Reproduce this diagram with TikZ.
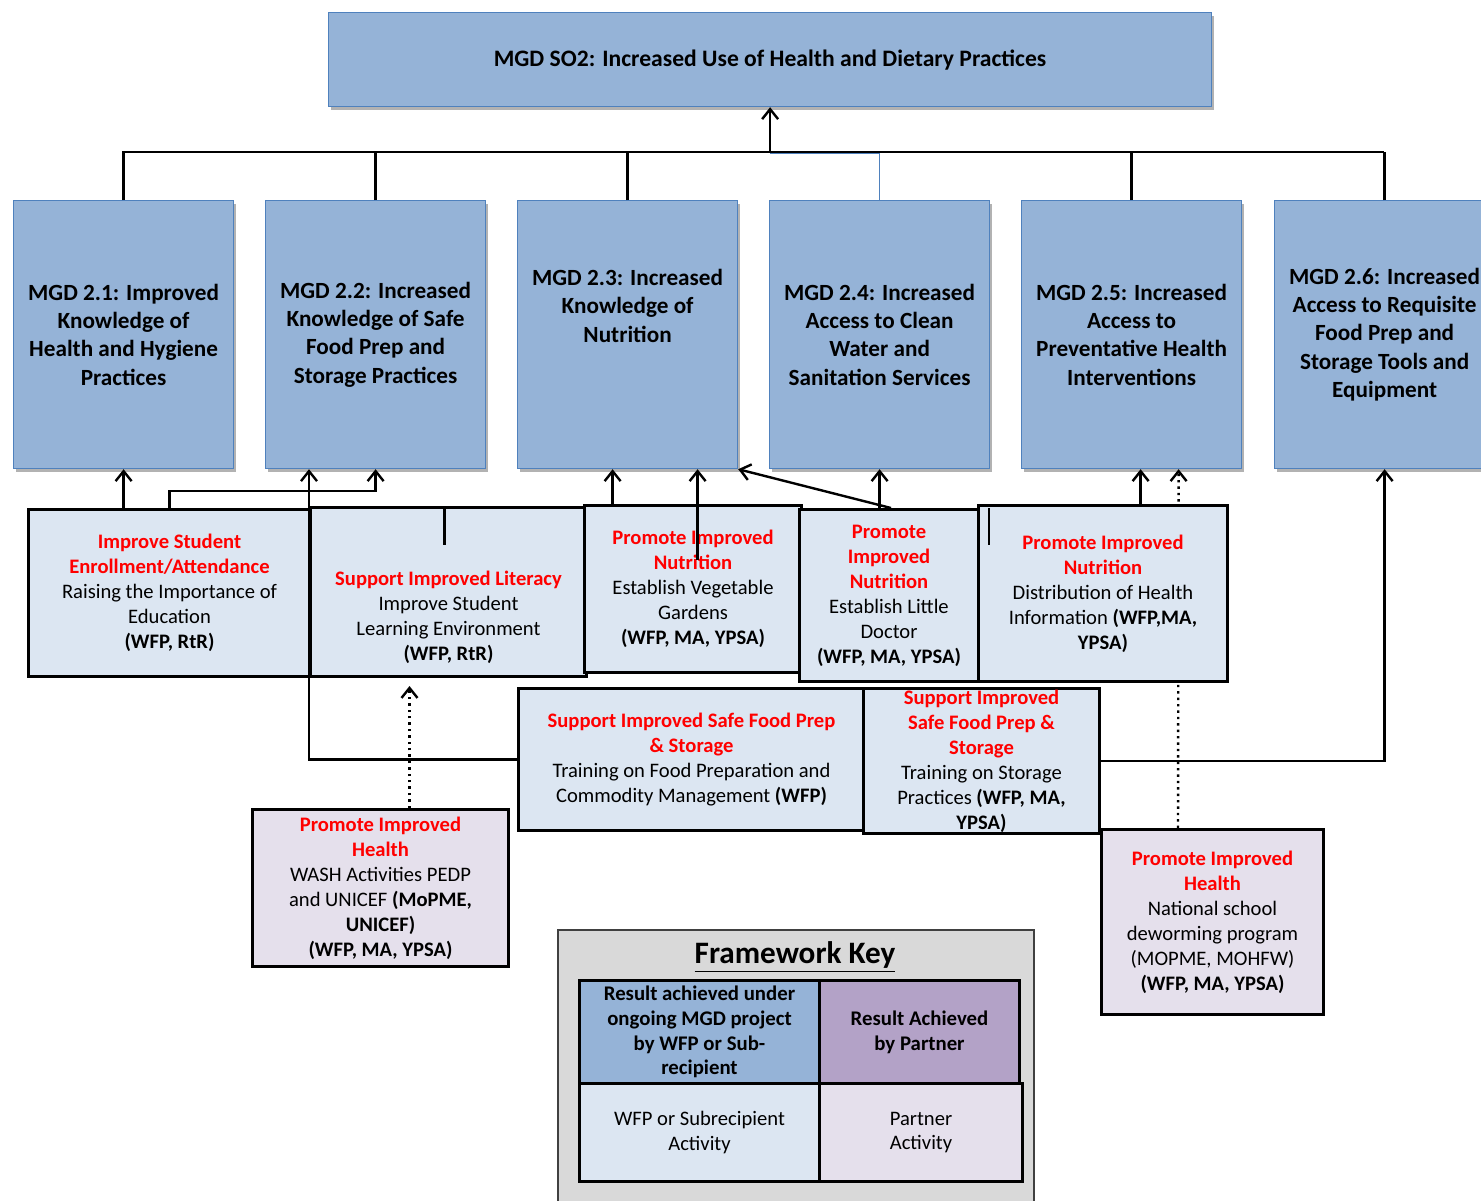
\documentclass[tikz,border=0pt]{standalone}
\usepackage{fontspec}
\setmainfont{Carlito}
\usetikzlibrary{arrows.meta,shadows}
\definecolor{mgdblue}{HTML}{95B3D7}
\definecolor{mgdedge}{HTML}{4F81BD}
\definecolor{actblue}{HTML}{DCE6F2}
\definecolor{partlav}{HTML}{E5E0EC}
\definecolor{partpur}{HTML}{B3A2C7}
\definecolor{keygray}{HTML}{D9D9D9}
\definecolor{redtxt}{HTML}{FF0000}
\newcommand{\redhd}[1]{{\color{redtxt}\bfseries #1}}
\begin{document}
\begin{tikzpicture}[x=0.5pt,y=-0.5pt,
  result/.style={draw=mgdedge, line width=0.6pt, fill=mgdblue, inner sep=0pt,
    anchor=north west, align=center, font=\fontsize{11.6}{14.2}\selectfont\bfseries,
    drop shadow={shadow xshift=1.2pt, shadow yshift=-1.5pt, fill=black, opacity=0.3}},
  actbox/.style={draw=black, line width=1.5pt, fill=actblue, anchor=north west,
    inner sep=0pt, align=center, font=\fontsize{10.3}{12.5}\selectfont},
  partbox/.style={actbox, fill=partlav},
  keycell/.style={draw=black, line width=1.5pt, anchor=north west, inner sep=0pt,
    align=center, font=\fontsize{10.3}{12.4}\selectfont},
  txt/.style={align=center, inner sep=0pt},
  link/.style={line width=1.2pt},
  conn/.style={line width=1.2pt, -{Straight Barb[length=5pt,width=8pt,line width=1.2pt]}},
  dotconn/.style={conn, dotted}]
\path[use as bounding box, fill=white] (0,0) rectangle (1481,1200);
\clip (0,0) rectangle (1481,1200);

% top result
\node[result, minimum width=441.5pt, minimum height=47pt,
  font=\fontsize{11.8}{13}\selectfont\bfseries] (top) at (328,12)
  {MGD SO2: Increased Use of Health and Dietary Practices};

% bus
\coordinate (busL) at (123,152);
\draw[link] (123,200) -- (busL) -- (1384,152);

% second row results
\node[result, minimum width=110pt, minimum height=134pt] (m21) at (13,200)
  {MGD 2.1: Improved\\Knowledge of\\Health and Hygiene\\Practices};
\node[result, minimum width=110pt, minimum height=134pt] (m22) at (265,200)
  {MGD 2.2: Increased\\Knowledge of Safe\\Food Prep and\\Storage Practices};
\node[result, minimum width=110pt, minimum height=134pt] (m23) at (517,200) {};
\node[txt, font=\fontsize{11.6}{14.2}\selectfont\bfseries] (m23t) at ([yshift=14.5pt]m23.center)
  {MGD 2.3: Increased\\Knowledge of\\Nutrition};
\node[result, minimum width=110pt, minimum height=134pt] (m24) at (769,200)
  {MGD 2.4: Increased\\Access to Clean\\Water and\\Sanitation Services};
\node[result, minimum width=110pt, minimum height=134pt] (m25) at (1021,200)
  {MGD 2.5: Increased\\Access to\\Preventative Health\\Interventions};
\node[result, minimum width=110pt, minimum height=134pt] (m26) at (1274,200)
  {MGD 2.6: Increased\\Access to Requisite\\Food Prep and\\Storage Tools and\\Equipment};

\draw[link] (m21.north) -- (m21.north |- busL);
\draw[link] (m22.north) -- (m22.north |- busL);
\draw[link] (m23.north) -- (m23.north |- busL);
\draw[link] (m25.north) -- (m25.north |- busL);
\draw[link] (m26.north) -- (m26.north |- busL);
\draw[mgdedge, line width=0.6pt] ([yshift=-0.8pt]top.south |- busL) -| (m24.north);
\draw[conn] (top.south |- busL) -- (top.south);

% dotted link from deworming, partly hidden behind activity box
\coordinate (d25) at ([xshift=23.5pt]m25.south);
\draw[dotconn] (1178,828) -- (d25);

% activity boxes
\node[actbox, minimum width=141pt, minimum height=83.5pt] (A) at (27,508)
  {\redhd{Improve Student}\\\redhd{Enrollment/Attendance}\\Raising the Importance of\\Education\\\textbf{(WFP, RtR)}};
\node[actbox, minimum width=138pt, minimum height=84.5pt] (B) at (309,506) {};
\node[txt, font=\fontsize{10.3}{12.5}\selectfont] (Bt) at ([yshift=-12.5pt]B.center)
  {\redhd{Support Improved Literacy}\\Improve Student\\Learning Environment\\\textbf{(WFP, RtR)}};
\node[actbox, minimum width=108.5pt, minimum height=83.5pt] (C) at (583,504)
  {\redhd{Promote Improved}\\\redhd{Nutrition}\\Establish Vegetable\\Gardens\\\textbf{(WFP, MA, YPSA)}};
\node[actbox, minimum width=89.5pt, minimum height=86pt] (D) at (798,508)
  {\redhd{Promote}\\\redhd{Improved}\\\redhd{Nutrition}\\Establish Little\\Doctor\\\textbf{(WFP, MA, YPSA)}};
\node[actbox, minimum width=124.5pt, minimum height=88pt] (E) at (977,504)
  {\redhd{Promote Improved}\\\redhd{Nutrition}\\Distribution of Health\\Information \textbf{(WFP,MA,}\\\textbf{YPSA)}};
\node[actbox, minimum width=173pt, minimum height=71pt] (F) at (517,687)
  {\redhd{Support Improved Safe Food Prep}\\\redhd{\& Storage}\\Training on Food Preparation and\\Commodity Management \textbf{(WFP)}};
\node[actbox, minimum width=118pt, minimum height=72.5pt] (G) at (862,687)
  {\redhd{Support Improved}\\\redhd{Safe Food Prep \&}\\\redhd{Storage}\\Training on Storage\\Practices \textbf{(WFP, MA,}\\\textbf{YPSA)}};
\node[partbox, minimum width=128pt, minimum height=78.5pt] (H) at (251,808)
  {\redhd{Promote Improved}\\\redhd{Health}\\WASH Activities PEDP\\and UNICEF \textbf{(MoPME,}\\\textbf{UNICEF)}\\\textbf{(WFP, MA, YPSA)}};
\node[partbox, minimum width=111pt, minimum height=92.5pt] (I) at (1100,828)
  {\redhd{Promote Improved}\\\redhd{Health}\\National school\\deworming program\\(MOPME, MOHFW)\\\textbf{(WFP, MA, YPSA)}};

% connectors from activities
\draw[conn] (A.north -| m21.south) -- (m21.south);
\draw[conn] (A.north) -- ++(0,-17) -| (m22.south);
\draw[conn] (F.west) -| (B.west |- m22.south);
\draw[dotconn] ([xshift=14.5pt]H.north) -- ([xshift=14.5pt,yshift=-4pt]H.north |- B.south);
\draw[link] ([xshift=-2pt]B.north) -- ++(0,39);
\draw[conn] ([xshift=-7.5pt]m23.south |- C.north) -- ([xshift=-7.5pt]m23.south);
\draw[conn] ([xshift=35pt,yshift=-28pt]m23.south |- C.north) -- ([xshift=35pt]m23.south);
\draw[conn] ([xshift=1pt]D.north) -- (m23.south east);
\draw[conn] (D.north -| m24.south) -- (m24.south);
\draw[link] ([xshift=6pt,yshift=-2pt]E.north west) -- ++(0,37);
\draw[conn] ([xshift=4.5pt]m25.south |- E.north) -- ([xshift=4.5pt]m25.south);
\draw[conn] (G.east) -| (m26.south);

% framework key
\node[draw=black!75, line width=1pt, fill=keygray, anchor=north west, inner sep=0pt,
  minimum width=238pt, minimum height=145pt] (key) at (557,929) {};
\node[font=\fontsize{15.6}{17}\selectfont\bfseries, inner sep=0pt] (keyt) at (795,957)
  {\underline{Framework Key}};
\node[keycell, fill=mgdblue, minimum width=120pt, minimum height=51.5pt,
  font=\fontsize{10.4}{12.4}\selectfont\bfseries] (k1) at (578,979)
  {Result achieved under\\ongoing MGD project\\by WFP or Sub-\\recipient};
\node[keycell, fill=partpur, minimum width=100pt, minimum height=51.5pt,
  font=\fontsize{10.4}{12.4}\selectfont\bfseries] (k2) at (818,979)
  {Result Achieved\\by Partner};
\node[keycell, fill=actblue, minimum width=120pt, minimum height=49pt] (k3) at (578,1082)
  {WFP or Subrecipient\\Activity};
\node[keycell, fill=partlav, minimum width=101.5pt, minimum height=49pt] (k4) at (818,1082)
  {Partner\\Activity};
\end{tikzpicture}
\end{document}
